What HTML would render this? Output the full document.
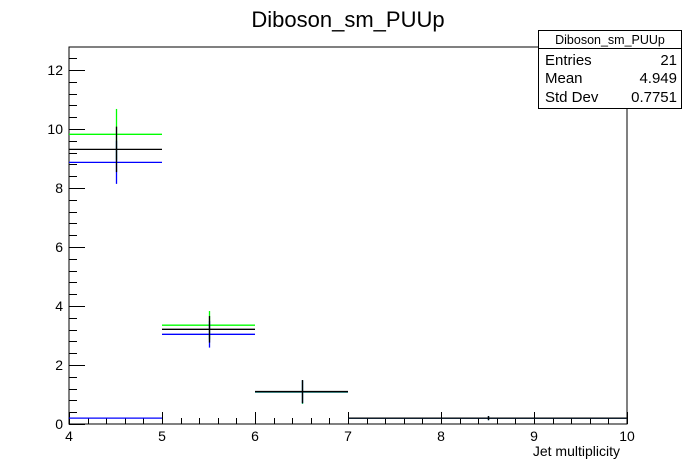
<!DOCTYPE html>
<html><head><meta charset="utf-8"><style>
body{margin:0;background:#fff;}
svg{display:block;font-family:"Liberation Sans",Arial,sans-serif;}
</style></head><body>
<svg id="c" width="696" height="472">
<text x="348" y="27" font-size="22" text-anchor="middle">Diboson_sm_PUUp</text>
<rect x="69" y="47" width="558" height="377" fill="none" stroke="#000" stroke-width="1"/>
<g id="axes"></g>
<g id="series"></g>
<text x="620" y="456" font-size="14" text-anchor="end">Jet multiplicity</text>
<g>
<rect x="538.5" y="30.5" width="143" height="78" fill="#fff" stroke="#000"/>
<line x1="538.5" y1="48.5" x2="681.5" y2="48.5" stroke="#000"/>
<text x="610" y="44" font-size="12.5" text-anchor="middle">Diboson_sm_PUUp</text>
<text x="545" y="65" font-size="15">Entries</text><text x="677" y="65" font-size="15" text-anchor="end">21</text>
<text x="545" y="83" font-size="15">Mean</text><text x="677" y="83" font-size="15" text-anchor="end">4.949</text>
<text x="545" y="102" font-size="15">Std Dev</text><text x="677" y="102" font-size="15" text-anchor="end">0.7751</text>
</g>
</svg>
<script>
const binEdges=[4,5,6,7,10];
const nominalValues=[9.31,3.21,1.10,0.20];
const nominalErrors=[0.77,0.45,0.39,0.07];
const upValues=[9.82,3.35,1.08,0.20];
const upErrors=[0.86,0.48,0.40,0.07];
const downValues=[8.87,3.04,1.09,0.20];
const downErrors=[0.73,0.45,0.39,0.07];
const xTicks=[4,5,6,7,8,9,10];
const yTicks=[0,2,4,6,8,10,12];
const X0=69,X1=627,Y0=424,Y1=47,xmin=4,xmax=10,ymin=0,ymax=12.78;
const sx=v=>X0+(v-xmin)/(xmax-xmin)*(X1-X0);
const sy=v=>Y0-(v-ymin)/(ymax-ymin)*(Y0-Y1);
const NS="http://www.w3.org/2000/svg";
const axes=document.getElementById('axes'),ser=document.getElementById('series');
function ln(p,x1,y1,x2,y2,c,w){const l=document.createElementNS(NS,'line');l.setAttribute('x1',x1);l.setAttribute('y1',y1);l.setAttribute('x2',x2);l.setAttribute('y2',y2);l.setAttribute('stroke',c);l.setAttribute('stroke-width',w||1);p.appendChild(l);return l;}
function tx(p,x,y,s,a){const t=document.createElementNS(NS,'text');t.setAttribute('x',x);t.setAttribute('y',y);t.setAttribute('font-size',14);t.setAttribute('text-anchor',a);t.textContent=s;p.appendChild(t);return t;}
for(let v=4;v<=10.001;v+=0.2){const x=Math.round(sx(v))+0.5;const maj=Math.abs(v-Math.round(v))<1e-6;const l=ln(axes,x,Y0,x,Y0-(maj?12:6),'#000');

}
xTicks.forEach(v=>{const t=tx(axes,sx(v),441,String(v),'middle');

});
for(let v=0;v<=12.6;v+=0.4){const y=Math.round(sy(v))+0.5;const maj=Math.abs(v/2-Math.round(v/2))<1e-6;const l=ln(axes,X0,y,X0+(maj?16:8),y,'#000');

}
yTicks.forEach(v=>{const t=tx(axes,63,sy(v)+5,String(v),'end');

});
function drawSeries(vals,errs,col,name,horizOnly){const g=document.createElementNS(NS,'g');


ser.appendChild(g);
vals.forEach((v,i)=>{const a=binEdges[i],b=binEdges[i+1],m=(a+b)/2;const y=sy(v);
ln(g,sx(a),y,sx(b),y,col,1.3);
if(!horizOnly)ln(g,Math.round(sx(m))+0.5,sy(v+errs[i]),Math.round(sx(m))+0.5,sy(v-errs[i]),col,1.3);});}
drawSeries(upValues,upErrors,'#00ff00','series-up');
drawSeries(downValues,downErrors,'#0000ff','series-down');
drawSeries(nominalValues,nominalErrors,'#000000','series-nominal');
drawSeries(downValues.slice(3),downErrors.slice(3),'#0000ff','series-down-overlay',true);
</script>
</body></html>
